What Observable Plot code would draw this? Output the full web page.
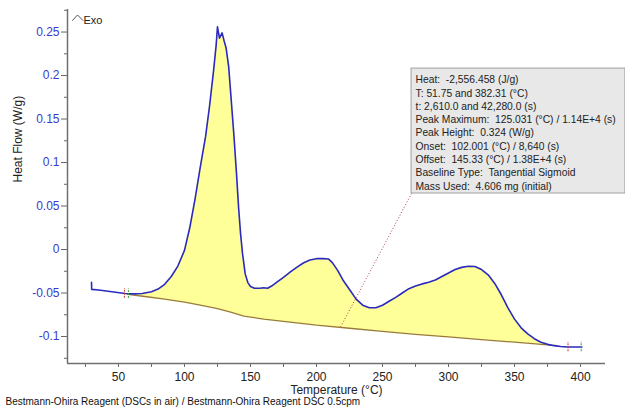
<!DOCTYPE html>
<html>
<head>
<meta charset="utf-8">
<script src="https://cdn.jsdelivr.net/npm/d3@7"></script>
<script src="https://cdn.jsdelivr.net/npm/@observablehq/plot@0.6"></script>
<style>
  html, body { margin: 0; padding: 0; background: #fff; overflow: hidden; }
  #chart { width: 625px; height: 410px; }
</style>
</head>
<body>
<div id="chart"></div>
<script>
// Heat flow curve (temperature °C, heat flow W/g)
const curveT = [29.6, 29.7, 35, 45, 55, 62, 68, 75, 80, 85, 90, 95, 100, 104, 108, 112, 116, 119, 122, 124, 125, 126.5, 128.5, 130, 131.5, 133.5, 135.5, 137.5, 139.5, 141, 142.5, 144, 146, 148, 150, 153, 157, 160, 163, 166, 170, 175, 180, 185, 190, 195, 200, 205, 209, 212, 216, 220, 225, 230, 235, 240, 245, 250, 255, 260, 265, 270, 275, 280, 285, 290, 295, 300, 305, 310, 315, 320, 325, 330, 335, 340, 345, 350, 355, 360, 365, 370, 375, 380, 385, 390, 395, 401];
const curveHF = [-0.0376, -0.0458, -0.0465, -0.0485, -0.0505, -0.051, -0.0505, -0.0485, -0.0455, -0.040, -0.031, -0.019, -0.001, 0.025, 0.058, 0.095, 0.13, 0.165, 0.205, 0.235, 0.256, 0.243, 0.249, 0.24, 0.232, 0.21, 0.17, 0.13, 0.085, 0.048, 0.018, -0.005, -0.028, -0.038, -0.0425, -0.0445, -0.0445, -0.044, -0.0445, -0.042, -0.0375, -0.032, -0.026, -0.0205, -0.0155, -0.012, -0.0105, -0.0105, -0.0108, -0.015, -0.024, -0.035, -0.046, -0.057, -0.064, -0.067, -0.067, -0.064, -0.0595, -0.055, -0.050, -0.045, -0.042, -0.0395, -0.0375, -0.035, -0.031, -0.027, -0.023, -0.0205, -0.0192, -0.0195, -0.023, -0.029, -0.039, -0.052, -0.067, -0.080, -0.090, -0.097, -0.1025, -0.1065, -0.109, -0.1105, -0.1115, -0.112, -0.112, -0.112];

// Tangential sigmoid baseline
const baseT = [57, 70, 85, 100, 112, 125, 135, 145, 160, 180, 200, 225, 250, 275, 300, 325, 350, 375, 382];
const baseHF = [-0.0515, -0.054, -0.057, -0.0605, -0.064, -0.068, -0.072, -0.0765, -0.080, -0.0835, -0.087, -0.0905, -0.094, -0.0975, -0.1005, -0.1035, -0.1065, -0.1095, -0.1105];

// Integration limit markers
const limitT = [54.5, 57.5, 390.5, 400.5];
const limitHF = [-0.0505, -0.0508, -0.112, -0.112];
const limitColor = ["#d03030", "#30a030", "#d03030", "#30a030"];

// Ticks
const xTicks = [50, 100, 150, 200, 250, 300, 350, 400];
const xMinor = [25, 75, 125, 175, 225, 275, 325, 375];
const yTicks = [-0.1, -0.05, 0, 0.05, 0.1, 0.15, 0.2, 0.25];
const yTickLabels = ["-0.1", "-0.05", "0", "0.05", "0.1", "0.15", "0.2", "0.25"];
const yMinor = [-0.125, -0.075, -0.025, 0.025, 0.075, 0.125, 0.175, 0.225, 0.275];

// Texts
const yLabel = "Heat Flow (W/g)";
const xLabel = "Temperature (°C)";
const caption = "Bestmann-Ohira Reagent (DSCs in air) / Bestmann-Ohira Reagent DSC 0.5cpm";
const exoLabel = "Exo";
const infoLines = [
  "Heat:  -2,556.458 (J/g)",
  "T: 51.75 and 382.31 (°C)",
  "t: 2,610.0 and 42,280.0 (s)",
  "Peak Maximum:  125.031 (°C) / 1.14E+4 (s)",
  "Peak Height:  0.324 (W/g)",
  "Onset:  102.001 (°C) / 8,640 (s)",
  "Offset:  145.33 (°C) / 1.38E+4 (s)",
  "Baseline Type:  Tangential Sigmoid",
  "Mass Used:  4.606 mg (initial)"
];
// Annotation geometry (data coords): info box, leader line, Exo caret
const boxT = [272, 434];
const boxHF = [0.0644, 0.208];
const leaderT = [272, 218];
const leaderHF = [0.0644, -0.0897];
const caretT = [15.2, 19.0, 23.1];
const caretHF = [0.2633, 0.2696, 0.2633];

const xDomain = [11.4, 418.9];
const yDomain = [-0.131, 0.2759];

const curve = curveT.map((t, i) => ({t, hf: curveHF[i]}));
const baseline = baseT.map((t, i) => ({t, hf: baseHF[i]}));
const caret = caretT.map((t, i) => ({t, hf: caretHF[i]}));
const interp = (xs, ys) => t => {
  const i = Math.max(1, Math.min(xs.length - 1, d3.bisectLeft(xs, t)));
  const t0 = xs[i - 1], t1 = xs[i];
  const k = (t - t0) / (t1 - t0);
  return ys[i - 1] + k * (ys[i] - ys[i - 1]);
};
const baseAt = interp(baseT, baseHF);
const curveAt = interp(curveT, curveHF);
const tStart = baseT[0], tEnd = baseT[baseT.length - 1];
const fill = [{t: tStart, y1: baseAt(tStart), y2: curveAt(tStart)}]
  .concat(curve.filter(d => d.t > tStart && d.t < tEnd).map(d => ({t: d.t, y1: baseAt(d.t), y2: d.hf})))
  .concat([{t: tEnd, y1: baseAt(tEnd), y2: curveAt(tEnd)}]);

const limits = limitT.map((t, i) => ({t, hf: limitHF[i], c: limitColor[i]}));

const font = "'Liberation Sans', Arial, sans-serif";

const chart = Plot.plot({
  width: 625,
  height: 410,
  marginLeft: 67,
  marginRight: 20,
  marginTop: 9,
  marginBottom: 47,
  style: {fontFamily: font, fontSize: "12px", background: "#fff", overflow: "visible"},
  x: {domain: xDomain, label: null},
  y: {domain: yDomain, label: null},
  marks: [
    // yellow integrated area
    Plot.areaY(fill, {x: "t", y1: "y1", y2: "y2", fill: "#ffff99"}),
    // baseline
    Plot.line(baseline, {x: "t", y: "hf", stroke: "#9a7b35", strokeWidth: 1.3}),
    // leader line
    Plot.link([0], {x1: () => leaderT[0], y1: () => leaderHF[0], x2: () => leaderT[1], y2: () => leaderHF[1], stroke: "#b04060", strokeWidth: 1, strokeDasharray: "1,2"}),
    // curve
    Plot.line(curve, {x: "t", y: "hf", stroke: "#2a2ac0", strokeWidth: 1.6}),
    // limit markers
    Plot.ruleX(limits, {x: "t", y1: d => d.hf - 0.0055, y2: d => d.hf + 0.0055, stroke: "c", strokeWidth: 1, strokeDasharray: "2,1"}),
    // axes
    Plot.axisY(yMinor, {tickSize: 3, stroke: "#666", text: null, label: null}),
    Plot.axisY(yTicks, {tickSize: 6, tickPadding: 2, tickFormat: d => yTickLabels[yTicks.indexOf(d)], fill: "#3a3acc", stroke: "#666", fontSize: 12, label: null}),
    Plot.axisX(xMinor, {tickSize: 4, stroke: "#666", text: null, label: null}),
    Plot.axisX(xTicks, {tickSize: 4, tickPadding: 5, fill: "#222", stroke: "#666", fontSize: 12, label: null}),
    Plot.ruleX([xDomain[0]], {stroke: "#707070", strokeWidth: 1.5}),
    Plot.ruleY([yDomain[0]], {stroke: "#707070", strokeWidth: 1.5}),
    // axis labels
    Plot.text([yLabel], {text: d => d, frameAnchor: "left", rotate: -90, dx: -49, dy: -4, fontSize: 12, fill: "#222"}),
    Plot.text([xLabel], {text: d => d, frameAnchor: "bottom", dx: 0, dy: 30.5, fontSize: 12, fill: "#222"}),
    Plot.text([caption], {text: d => d, frameAnchor: "bottom-left", textAnchor: "start", dx: -62, dy: 41, fontSize: 10, fill: "#111"}),
    // Exo indicator
    Plot.line(caret, {x: "t", y: "hf", stroke: "#555", strokeWidth: 1}),
    Plot.text([exoLabel], {text: d => d, frameAnchor: "top-left", textAnchor: "start", dx: 16, dy: 7, fontSize: 11, fill: "#222"}),
    // info box
    Plot.rect([0], {x1: () => boxT[0], x2: () => boxT[1], y1: () => boxHF[0], y2: () => boxHF[1], fill: "#e8e8e8", stroke: "#a0a0a0", strokeWidth: 1}),
    Plot.text([infoLines.join("\n")], {text: d => d, x: () => boxT[0] + 3, y: () => boxHF[1] - 0.006, textAnchor: "start", lineAnchor: "top", lineHeight: 1.29, fontSize: 10.3, fill: "#222"})
  ]
});
document.getElementById("chart").append(chart);
</script>
</body>
</html>
